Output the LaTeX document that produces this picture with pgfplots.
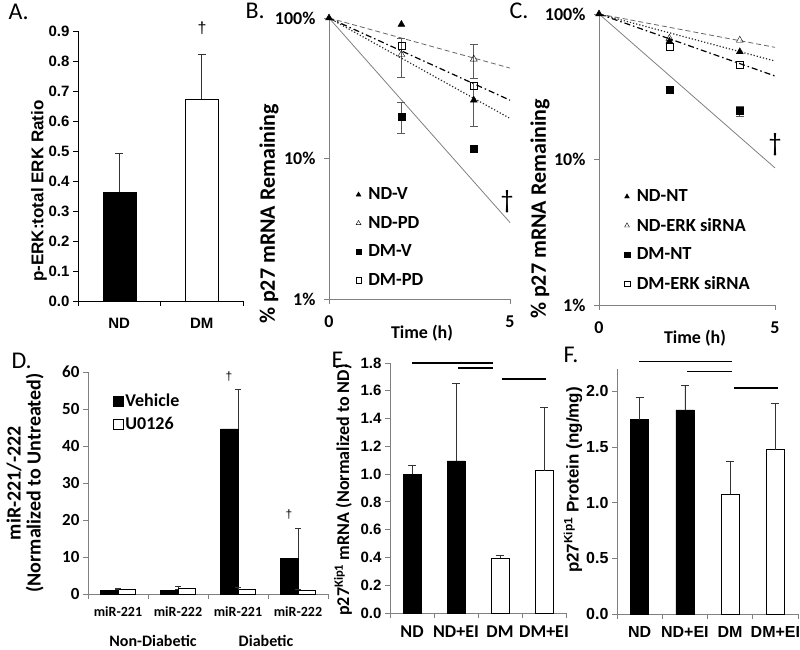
\documentclass[border=0pt]{standalone}
\usepackage{pgfplots}
\pgfplotsset{compat=1.18}
\usepackage{fontspec}
\setmainfont{Carlito}
\newfontfamily\arial{Liberation Sans}
\newcommand{\fs}[1]{\fontsize{#1}{#1}\selectfont}
\definecolor{axgray}{RGB}{128,128,128}
\begin{document}
\begin{tikzpicture}
\useasboundingbox (0pt,0pt) rectangle (800pt,649pt);
\pgfplotsset{
  every axis/.append style={scale only axis, /pgf/number format/assume math mode=true, clip=false,
    axis x line*=bottom, axis y line*=left, tick align=outside, major tick length=5pt,
    axis line style={axgray, line width=0.9pt}, tick style={axgray, line width=0.9pt}},
  fmt1/.style={yticklabel style={/pgf/number format/fixed,/pgf/number format/fixed zerofill,/pgf/number format/precision=1}},
  errp/.style={/pgfplots/error bars/y dir=plus, /pgfplots/error bars/y explicit, /pgfplots/error bars/error bar style={black!80, line width=0.6pt}, /pgfplots/error bars/error mark options={rotate=90, black!80, line width=0.6pt, mark size=#1}},
  errp/.default=4pt,
  errline/.style={black!65, line width=0.9pt, mark=-, mark size=4pt, mark options={solid, black!65}, forget plot},
  dashl/.style={black!60, line width=0.8pt, dash pattern=on 5pt off 3pt, forget plot},
  ddotl/.style={black, line width=1.2pt, dash pattern=on 6pt off 3pt on 1.5pt off 3pt, forget plot},
  dotl/.style={black!85, line width=1.2pt, dash pattern=on 1.2pt off 2pt, forget plot},
  solidl/.style={axgray, line width=0.8pt, forget plot},
}
% ---------------- A ----------------
\begin{axis}[at={(78pt,348pt)}, anchor=south west, width=165pt, height=270pt,
  xmin=-0.5, xmax=1.5, ymin=0, ymax=0.9,
  axis line style={black, line width=0.9pt}, tick style={black, line width=0.9pt},
  xtick={-0.5,0.5,1.5}, xticklabels={},
  extra x ticks={0,1}, extra x tick labels={ND,DM}, extra x tick style={major tick length=0pt},
  ytick={0,0.1,0.2,0.3,0.4,0.5,0.6,0.7,0.8,0.9}, fmt1,
  tick label style={font=\arial\bfseries\fs{15}},
  xticklabel style={yshift=-14pt},
]
\addplot[ybar, bar shift=0pt, bar width=33pt, fill=black, draw=black, errp] coordinates {(0,0.363) +- (0,0.13)};
\addplot[ybar, bar shift=0pt, bar width=33pt, fill=white, draw=black, errp] coordinates {(1,0.673) +- (0,0.15)};
\end{axis}
\node[font=\arial\fs{16}] at (202pt,621pt) {†};
\node[rotate=90, font=\arial\bfseries\fs{17}] at (39pt,458pt) {p-ERK:total ERK Ratio};
% ---------------- B ----------------
\begin{axis}[at={(329pt,350pt)}, anchor=south west, width=181pt, height=281pt,
  xmin=0, xmax=5, ymin=1, ymax=100, ymode=log, yminorticks=false,
  xtick={0,5}, ytick={1,10,100}, yticklabels={1\%,10\%,100\%},
  tick label style={font=\bfseries\fs{18}},
  xticklabel style={yshift=-8pt}, yticklabel style={xshift=-5pt},
  legend style={at={(0.13,0.41)}, anchor=north west, draw=none, fill=none, font=\bfseries\fs{18.5}, row sep=11pt,
    /tikz/every odd column/.append style={column sep=5pt}},
  legend image post style={mark size=2.8pt},
  legend cell align=left,
]
\addplot[dashl] coordinates {(0,100) (5,44)};
\addplot[ddotl] coordinates {(0,100) (5,26)};
\addplot[dotl] coordinates {(0,100) (5,19.3)};
\addplot[solidl] coordinates {(0,100) (5,3.5)};
\addplot[errline] coordinates {(2,38) (2,72)};
\addplot[errline] coordinates {(4,17) (4,35)};
\addplot[errline] coordinates {(4,37) (4,65)};
\addplot[errline] coordinates {(2,15) (2,25)};
\addplot[only marks, mark=triangle*, mark size=4pt, black] coordinates {(0,100) (2,90) (4,26)};
\addlegendentry{ND-V}
\addplot[only marks, mark=triangle, mark size=4pt, black, mark options={fill=white}] coordinates {(2,55) (4,51)};
\addlegendentry{ND-PD}
\addplot[only marks, mark=square*, mark size=3.5pt, black] coordinates {(2,20) (4,11.8)};
\addlegendentry{DM-V}
\addplot[only marks, mark=square, mark size=3.5pt, black, mark options={fill=white}] coordinates {(2,64) (4,33)};
\addlegendentry{DM-PD}
\end{axis}
\node[font=\fs{26}] at (507pt,447pt) {†};
\node[rotate=90, font=\bfseries\fs{22}] at (269pt,435pt) {\% p27 mRNA Remaining};
\node[font=\bfseries\fs{18}] at (422pt,316pt) {Time (h)};
% ---------------- C ----------------
\begin{axis}[at={(599pt,344pt)}, anchor=south west, width=176pt, height=291pt,
  xmin=0, xmax=5, ymin=1, ymax=100, ymode=log, yminorticks=false,
  xtick={0,5}, ytick={1,10,100}, yticklabels={1\%,10\%,100\%},
  tick label style={font=\bfseries\fs{18}},
  xticklabel style={yshift=-8pt}, yticklabel style={xshift=-5pt},
  legend style={at={(0.125,0.41)}, anchor=north west, draw=none, fill=none, font=\bfseries\fs{18.5}, row sep=11pt,
    /tikz/every odd column/.append style={column sep=5pt}},
  legend image post style={mark size=2.8pt},
  legend cell align=left,
]
\addplot[dashl] coordinates {(0,100) (5,59)};
\addplot[dotl] coordinates {(0,100) (5,47.5)};
\addplot[ddotl] coordinates {(0,100) (5,37.5)};
\addplot[solidl] coordinates {(0,100) (5,8.75)};
\addplot[errline] coordinates {(4,19.7) (4,23.3)};
\addplot[only marks, mark=triangle*, mark size=4pt, black] coordinates {(0,100) (2,65) (4,55)};
\addlegendentry{ND-NT}
\addplot[only marks, mark=triangle, mark size=4pt, black, mark options={fill=white}] coordinates {(2,68) (4,66)};
\addlegendentry{ND-ERK siRNA}
\addplot[only marks, mark=square*, mark size=3.5pt, black] coordinates {(2,30.4) (4,21.5)};
\addlegendentry{DM-NT}
\addplot[only marks, mark=square, mark size=3.5pt, black, mark options={fill=white}] coordinates {(2,60) (4,45)};
\addlegendentry{DM-ERK siRNA}
\end{axis}
\node[font=\fs{26}] at (775pt,504pt) {†};
\node[rotate=90, font=\bfseries\fs{22}] at (540pt,440pt) {\% p27 mRNA Remaining};
\node[font=\bfseries\fs{18}] at (695pt,311pt) {Time (h)};
% ---------------- D ----------------
\begin{axis}[at={(88pt,55pt)}, anchor=south west, width=240pt, height=222pt,
  xmin=-0.5, xmax=3.5, ymin=0, ymax=60,
  xtick={-0.5,0.5,1.5,2.5,3.5}, xticklabels={},
  extra x ticks={0,1,2,3}, extra x tick labels={miR-221,miR-222,miR-221,miR-222}, extra x tick style={major tick length=0pt},
  ytick={0,10,20,30,40,50,60},
  yticklabel style={font=\bfseries\fs{17}},
  xticklabel style={font=\bfseries\fs{14}, yshift=-9pt},
  legend style={at={(0.09,0.92)}, anchor=north west, draw=none, fill=none, font=\bfseries\fs{18}, row sep=5pt},
  legend image post style={xscale=0.6, yscale=1.8},
  legend cell align=left,
]
\addplot[ybar, bar shift=-8.75pt, bar width=17.5pt, fill=black, draw=black, area legend, errp=3pt] coordinates {(0,1.0) +- (0,0.2) (1,1.0) +- (0,0.2) (2,44.6) +- (0,10.8) (3,9.7) +- (0,8.1)};
\addlegendentry{Vehicle}
\addplot[ybar, bar shift=8.75pt, bar width=17.5pt, fill=white, draw=black, area legend, errp=3pt] coordinates {(0,1.2) +- (0,0.3) (1,1.5) +- (0,0.6) (2,1.2) +- (0,0.6) (3,1.0) +- (0,0.3)};
\addlegendentry{U0126}
\end{axis}
\node[font=\arial\fs{12}] at (229pt,272pt) {†};
\node[font=\arial\fs{12}] at (289pt,134pt) {†};
\node[font=\bfseries\fs{16}, inner sep=0pt, anchor=base] at (153pt,3pt) {Non-Diabetic};
\node[font=\bfseries\fs{16}, inner sep=0pt, anchor=base] at (266pt,3pt) {Diabetic};
\node[rotate=90, align=center, font=\bfseries\fs{20}] at (25pt,166pt) {miR-221/-222\\(Normalized to Untreated)};
% ---------------- E ----------------
\begin{axis}[at={(390pt,36pt)}, anchor=south west, width=176pt, height=250pt,
  xmin=-0.5, xmax=3.5, ymin=0, ymax=1.8,
  xtick={-0.5,0.5,1.5,2.5,3.5}, xticklabels={},
  extra x ticks={0,1,2,3}, extra x tick labels={ND,ND+EI,DM,DM+EI}, extra x tick style={major tick length=0pt},
  ytick={0,0.2,0.4,0.6,0.8,1.0,1.2,1.4,1.6,1.8}, fmt1,
  yticklabel style={font=\arial\bfseries\fs{15}},
  xticklabel style={font=\bfseries\fs{18}, yshift=-9pt},
]
\addplot[ybar, bar shift=0pt, bar width=18pt, fill=black, draw=black, errp] coordinates {(0,1.0) +- (0,0.066) (1,1.095) +- (0,0.56)};
\addplot[ybar, bar shift=0pt, bar width=18pt, fill=white, draw=black, errp] coordinates {(2,0.396) +- (0,0.022) (3,1.025) +- (0,0.455)};
\draw[black, line width=1.2pt] (axis cs:0,1.8) -- (axis cs:1.84,1.8);
\draw[black, line width=1.2pt] (axis cs:1.05,1.764) -- (axis cs:1.84,1.764);
\draw[black, line width=1.2pt] (axis cs:2.05,1.685) -- (axis cs:3.05,1.685);
\end{axis}
\node[rotate=90, font=\bfseries\fs{18}] at (343pt,159pt) {p27\textsuperscript{Kip1} mRNA (Normalized to ND)};
% ---------------- F ----------------
\begin{axis}[at={(617pt,35pt)}, anchor=south west, width=181pt, height=245pt,
  xmin=-0.5, xmax=3.5, ymin=0, ymax=2.2,
  xtick={-0.5,0.5,1.5,2.5,3.5}, xticklabels={},
  extra x ticks={0,1,2,3}, extra x tick labels={ND,ND+EI,DM,DM+EI}, extra x tick style={major tick length=0pt},
  ytick={0,0.5,1.0,1.5,2.0}, fmt1,
  yticklabel style={font=\arial\bfseries\fs{16}},
  xticklabel style={font=\arial\bfseries\fs{16}, yshift=-9pt},
]
\addplot[ybar, bar shift=0pt, bar width=18pt, fill=black, draw=black, errp] coordinates {(0,1.745) +- (0,0.205) (1,1.834) +- (0,0.216)};
\addplot[ybar, bar shift=0pt, bar width=18pt, fill=white, draw=black, errp] coordinates {(2,1.08) +- (0,0.29) (3,1.476) +- (0,0.414)};
\draw[black, line width=1.2pt] (axis cs:-0.014,2.27) -- (axis cs:2.04,2.27);
\draw[black, line width=1.2pt] (axis cs:1.05,2.18) -- (axis cs:2.04,2.18);
\draw[black, line width=1.2pt] (axis cs:2.09,2.03) -- (axis cs:3.06,2.03);
\end{axis}
\node[rotate=90, font=\arial\bfseries\fs{17}] at (573pt,169pt) {p27\textsuperscript{Kip1} Protein (ng/mg)};
% ---------------- panel letters ----------------
\node[anchor=base west, font=\fs{24}] at (5pt,629pt) {A.};
\node[anchor=base west, font=\fs{24}] at (242pt,630pt) {B.};
\node[anchor=base west, font=\fs{24}] at (506pt,630pt) {C.};
\node[anchor=base west, font=\fs{24}] at (8pt,281pt) {D.};
\node[anchor=base west, font=\fs{24}] at (328pt,282pt) {E.};
\node[anchor=base west, font=\fs{24}] at (560pt,287pt) {F.};
\end{tikzpicture}
\end{document}
